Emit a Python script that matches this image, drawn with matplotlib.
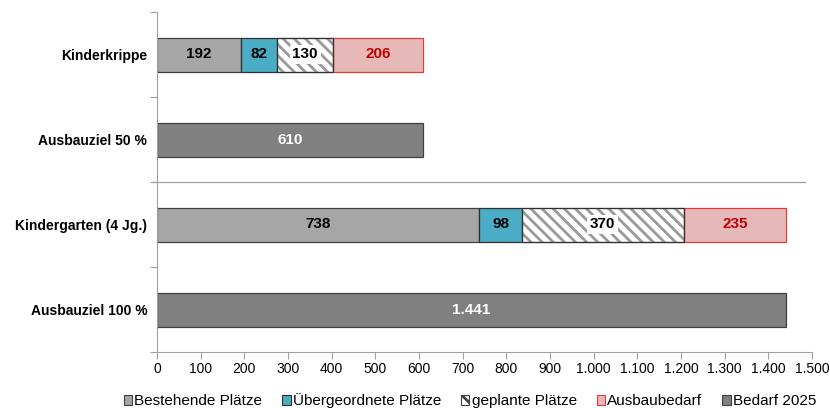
import matplotlib.pyplot as plt
from matplotlib.patches import Patch
from matplotlib.ticker import FuncFormatter

plt.rcParams['font.family'] = ['Liberation Sans', 'DejaVu Sans']
plt.rcParams['hatch.linewidth'] = 2.0
plt.rcParams['hatch.color'] = '#9A9A9A'

# Kategorien von oben nach unten
categories = ['Kinderkrippe', 'Ausbauziel 50 %', 'Kindergarten (4 Jg.)', 'Ausbauziel 100 %']

# gestapelte Werte je Bestandsreihe
bestehend = [192, 738]
uebergeordnet = [82, 98]
geplant = [130, 370]
ausbaubedarf = [206, 235]
bedarf_2025 = [610, 1441]

legend_labels = ['Bestehende Plätze', 'Übergeordnete Plätze', 'geplante Plätze',
                 'Ausbaubedarf', 'Bedarf 2025']

c_best = '#A6A6A6'
c_ueber = '#4BACC6'
c_ausbau = '#E6B9B8'
c_bedarf = '#808080'

fig = plt.figure(figsize=(8.3, 4.08), dpi=100)
ax = fig.add_axes([157 / 830, 1 - 352 / 408, (812 - 157) / 830, (352 - 12) / 408])

ypos = [0, 1, 2, 3]
h = 0.4
stack_rows = [ypos[0], ypos[2]]
total_rows = [ypos[1], ypos[3]]


def fmt_de(v):
    return f'{v:,.0f}'.replace(',', '.')


left = [0, 0]
series = [
    (bestehend, dict(color=c_best, edgecolor='#404040'), 'black', None),
    (uebergeordnet, dict(color=c_ueber, edgecolor='#303030'), 'black', None),
    (geplant, dict(facecolor='white', edgecolor='#9A9A9A', hatch='\\\\\\'), 'black', 'white'),
    (ausbaubedarf, dict(color=c_ausbau, edgecolor='#E03C3C'), '#C00000', None),
]
for vals, style, tcol, box in series:
    bars = ax.barh(stack_rows, vals, left=left, height=h, linewidth=0.9, **style)
    for b, v in zip(bars, vals):
        kw = {}
        if box:
            kw['bbox'] = dict(facecolor=box, edgecolor='none', pad=2.0)
        ax.text(b.get_x() + b.get_width() / 2, b.get_y() + b.get_height() / 2, fmt_de(v),
                ha='center', va='center', fontsize=11, fontweight='bold', color=tcol, **kw)
    left = [l + v for l, v in zip(left, vals)]

# Rand der schraffierten Segmente dunkel nachzeichnen
left_g = [b + u for b, u in zip(bestehend, uebergeordnet)]
ax.barh(stack_rows, geplant, left=left_g, height=h, color='none', edgecolor='#303030', linewidth=0.9)

bars = ax.barh(total_rows, bedarf_2025, height=h, color=c_bedarf, edgecolor='#404040', linewidth=0.9)
for b, v in zip(bars, bedarf_2025):
    ax.text(b.get_width() / 2, b.get_y() + b.get_height() / 2, fmt_de(v),
            ha='center', va='center', fontsize=11, fontweight='bold', color='white')

ax.set_xlim(0, 1500)
ax.set_ylim(3.5, -0.5)
ax.set_xticks(range(0, 1501, 100))
ax.xaxis.set_major_formatter(FuncFormatter(lambda v, p: fmt_de(v)))
ax.set_yticks(ypos)
ax.set_yticklabels(categories, fontsize=10, fontweight='bold')
ax.tick_params(axis='y', length=0, pad=7)
ax.set_yticks([-0.5, 0.5, 1.5, 2.5, 3.5], minor=True)
ax.tick_params(axis='y', which='minor', length=5, color='#A0A0A0', width=0.8)
ax.tick_params(axis='x', length=5, color='#A0A0A0', width=0.8, labelsize=10, pad=2)

for s in ['top', 'right']:
    ax.spines[s].set_visible(False)
for s in ['left', 'bottom']:
    ax.spines[s].set_color('#A0A0A0')
    ax.spines[s].set_linewidth(0.8)

# Trennlinie zwischen Krippe und Kindergarten
ax.axhline(1.5, xmin=-0.008, xmax=0.99, color='#A0A0A0', linewidth=0.9, clip_on=False)

handles = [
    Patch(facecolor=c_best, edgecolor='#404040', linewidth=0.8),
    Patch(facecolor=c_ueber, edgecolor='#303030', linewidth=0.8),
    Patch(facecolor='white', edgecolor='#404040', hatch='\\\\', linewidth=0.8),
    Patch(facecolor=c_ausbau, edgecolor='#E03C3C', linewidth=0.8),
    Patch(facecolor=c_bedarf, edgecolor='#404040', linewidth=0.8),
]
fig.legend(handles, legend_labels, loc='center', bbox_to_anchor=(470 / 830, 1 - 401 / 408), ncol=5,
           frameon=False, fontsize=11, handlelength=0.55, handleheight=0.55,
           handletextpad=0.15, columnspacing=1.3, borderpad=0.1)

fig.savefig('out.png', dpi=100)
